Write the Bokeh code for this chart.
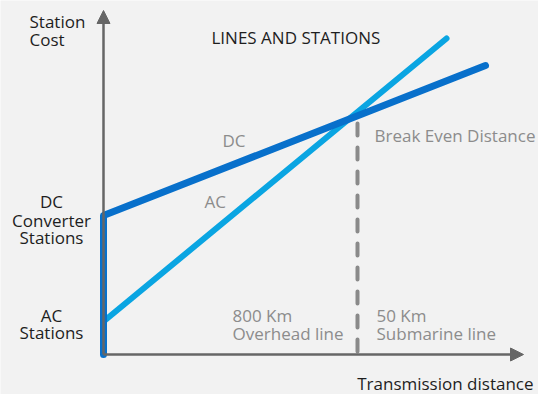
from bokeh.plotting import figure
from bokeh.models import Range1d, Arrow, NormalHead
from bokeh.core.properties import value
from bokeh.embed import file_html
from bokeh.resources import INLINE

# Cost curves (distance units along x, cost units along y; origin = axes corner)
dc_x = [0, 0, 382]
dc_y = [0, 139, 289]
ac_x = [0, 343]
ac_y = [33, 316]
break_even_x = 254
break_even_y = [231, 2]

# Axis extents
x_axis_end = 420
y_axis_end = 344

# Text labels: (text, x, y) in the same units
black_labels = ["Station", "Cost", "LINES AND STATIONS"]
black_x = [-74, -74, 108]
black_y = [333, 315, 317]

left_labels = ["DC", "Converter", "Stations", "AC", "Stations"]
left_x = [-52, -52, -52, -52, -52]
left_y = [153, 134, 117, 39, 22]

gray_labels = ["DC", "AC", "Break Even Distance", "800 Km", "Overhead line",
               "50 Km", "Submarine line"]
gray_x = [119, 101, 271, 129, 129, 273, 273]
gray_y = [214, 153, 219, 39, 21, 39, 21]

axis_title = "Transmission distance"
axis_title_x = 430
axis_title_y = -29

BG = "#f2f2f2"
AXIS = "#666666"
DC_BLUE = "#0870cb"
AC_BLUE = "#0aa5e2"
GRAY_TXT = "#8c8c8c"
FONT = value("Open Sans")
SIZE = "17px"

p = figure(width=538, height=394, output_backend="svg", toolbar_location=None,
           x_range=Range1d(-103, 435), y_range=Range1d(-40, 354),
           min_border=0, background_fill_color=BG, border_fill_color=BG)
p.axis.visible = False
p.grid.visible = False
p.outline_line_color = None

# Axes with arrow heads
p.add_layout(Arrow(end=NormalHead(size=13, fill_color=AXIS, line_color=AXIS, line_width=1),
                   x_start=0, y_start=0, x_end=0, y_end=y_axis_end,
                   line_color=AXIS, line_width=2.5))
p.add_layout(Arrow(end=NormalHead(size=13, fill_color=AXIS, line_color=AXIS, line_width=1),
                   x_start=0, y_start=0, x_end=x_axis_end, y_end=0,
                   line_color=AXIS, line_width=2.5))

# Break-even marker
p.line([break_even_x, break_even_x], break_even_y, line_color="#8a8a8a", line_width=4,
       line_dash="12 12", line_cap="round")

# Cost lines
p.line(ac_x, ac_y, line_color=AC_BLUE, line_width=6, line_cap="round")
p.line(dc_x, dc_y, line_color=DC_BLUE, line_width=7, line_cap="round", line_join="round")

p.text(black_x, black_y, text=black_labels, text_font=FONT, text_font_size=SIZE,
       text_color="#1e1e1e", text_baseline="alphabetic", text_align="left")
p.text(left_x, left_y, text=left_labels, text_font=FONT, text_font_size=SIZE,
       text_color="#1e1e1e", text_baseline="alphabetic", text_align="center")
p.text(gray_x, gray_y, text=gray_labels, text_font=FONT, text_font_size=SIZE,
       text_color=GRAY_TXT, text_baseline="alphabetic", text_align="left")
p.text([axis_title_x], [axis_title_y], text=[axis_title], text_font=FONT,
       text_font_size=SIZE, text_color="#1e1e1e", text_baseline="alphabetic",
       text_align="right")

open("out.html", "w").write(file_html(p, INLINE))
